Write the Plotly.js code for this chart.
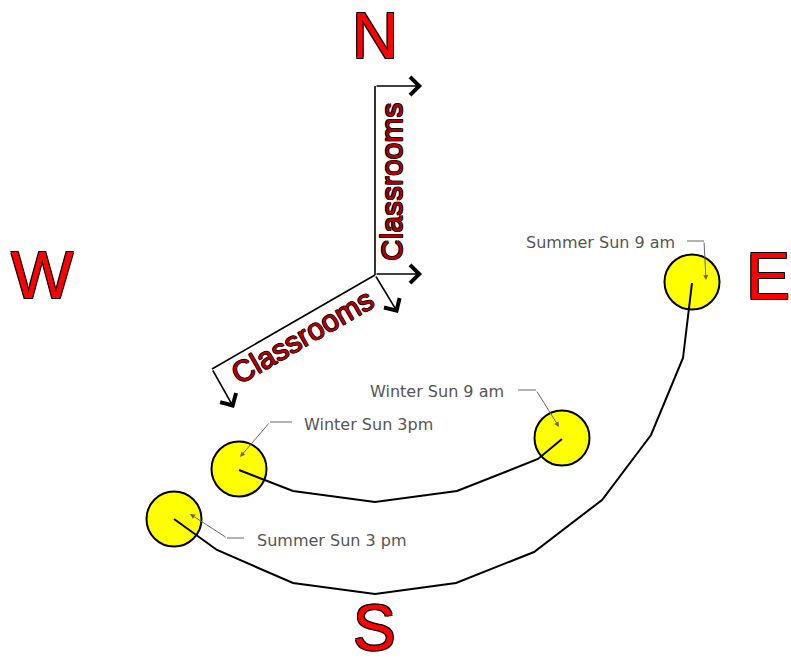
<!DOCTYPE html>
<html>
<head>
<meta charset="utf-8">
<script src="https://cdn.plot.ly/plotly-3.0.1.min.js"></script>
<style>html,body{margin:0;padding:0;background:#fff;}#chart{width:791px;height:664px;}</style>
</head>
<body>
<div id="chart"></div>
<script>
// Sun positions (diagram pixel coordinates, y downward)
const sunNames = ["Summer Sun 9 am", "Winter Sun 9 am", "Winter Sun 3pm", "Summer Sun 3 pm"];
const sunX = [692, 562, 239, 174];
const sunY = [282, 438, 469, 519];

// Sun paths
const summerPathX = [692, 683, 651, 602, 534, 456, 375, 293, 217, 174];
const summerPathY = [283, 358, 435, 500, 552, 583, 594, 583, 550, 519];
const winterPathX = [239, 293, 375, 457, 538, 562];
const winterPathY = [470, 491, 502, 491, 459, 439];

// Label anchor (left edge, middle) for each sun
const labelX = [524, 368, 302, 255];
const labelY = [242, 391, 424, 540];
// Connector elbows: start -> bend, then arrow to tip
const connStartX = [687, 518, 292, 244];
const connStartY = [241, 390, 422, 538];
const connBendX = [704, 536, 270, 227];
const connBendY = [241, 390, 422, 538];
const connTipX = [706, 559, 240, 190];
const connTipY = [280, 427, 457, 514];

// Compass letters
const compassText = ["N", "W", "E", "S"];
const compassX = [375, 42, 768, 374];
const compassY = [36, 275, 276, 628];
const compassSize = [64, 66, 66, 64];

// Classroom blocks
const roomText = ["Classrooms", "Classrooms"];
const roomX = [391, 302];
const roomY = [182, 336];
const roomAngle = [-90, -30];
const wallX = [375, 375, null, 375, 212];
const wallY = [86, 275, null, 275, 369];
const roomArrowTailX = [375, 375, 375, 212];
const roomArrowTailY = [86, 274, 275, 369];
const roomArrowTipX = [422, 422, 398, 234];
const roomArrowTipY = [86, 274, 313, 408];

const outline = "1px 1px 0 #000, -1px -1px 0 #000, 1px -1px 0 #000, -1px 1px 0 #000";
const thinOutline = "0.6px 0.6px 0 #000, -0.6px -0.6px 0 #000, 0.6px -0.6px 0 #000, -0.6px 0.6px 0 #000";

const connX = [], connY = [];
for (let i = 0; i < sunNames.length; i++) {
  connX.push(connStartX[i], connBendX[i], null);
  connY.push(connStartY[i], connBendY[i], null);
}

const traces = [
  {x: sunX, y: sunY, mode: "markers", type: "scatter", hoverinfo: "skip",
   marker: {size: 55, color: "#ffff00", line: {color: "#000", width: 2}}},
  {x: summerPathX, y: summerPathY, mode: "lines", type: "scatter", hoverinfo: "skip",
   line: {color: "#000", width: 2}},
  {x: winterPathX, y: winterPathY, mode: "lines", type: "scatter", hoverinfo: "skip",
   line: {color: "#000", width: 2}},
  {x: connX, y: connY, mode: "lines", type: "scatter", hoverinfo: "skip",
   line: {color: "#666", width: 1}},
  {x: wallX, y: wallY, mode: "lines", type: "scatter", hoverinfo: "skip",
   line: {color: "#000", width: 1.6}}
];

const annotations = [];
for (let i = 0; i < sunNames.length; i++) {
  annotations.push({x: labelX[i], y: labelY[i], xref: "x", yref: "y", text: sunNames[i],
    showarrow: false, xanchor: "left", yanchor: "middle",
    font: {family: "DejaVu Sans, Verdana, sans-serif", size: 16, color: "#555"}});
  annotations.push({x: connTipX[i], y: connTipY[i], ax: connBendX[i], ay: connBendY[i],
    xref: "x", yref: "y", axref: "x", ayref: "y", text: "", showarrow: true,
    arrowhead: 2, arrowsize: 1, arrowwidth: 1, arrowcolor: "#666"});
}
for (let i = 0; i < compassText.length; i++) {
  annotations.push({x: compassX[i], y: compassY[i], xref: "x", yref: "y", text: compassText[i],
    showarrow: false, xanchor: "center", yanchor: "middle", borderpad: 0,
    font: {family: "Liberation Sans, Arial, sans-serif", size: compassSize[i], color: "#ff0000", shadow: outline}});
}
for (let i = 0; i < roomText.length; i++) {
  annotations.push({x: roomX[i], y: roomY[i], xref: "x", yref: "y", text: roomText[i],
    showarrow: false, textangle: roomAngle[i],
    font: {family: "Liberation Sans, Arial, sans-serif", size: 30, color: "#b00000", shadow: thinOutline}});
}
for (let i = 0; i < roomArrowTipX.length; i++) {
  annotations.push({x: roomArrowTipX[i], y: roomArrowTipY[i], ax: roomArrowTailX[i], ay: roomArrowTailY[i],
    xref: "x", yref: "y", axref: "x", ayref: "y", text: "", showarrow: true,
    arrowhead: 4, arrowsize: 2.2, arrowwidth: 1.6, arrowcolor: "#000"});
}

const layout = {
  width: 791, height: 664,
  margin: {l: 0, r: 0, t: 0, b: 0},
  paper_bgcolor: "#fff", plot_bgcolor: "#fff",
  showlegend: false,
  xaxis: {range: [0, 791], visible: false, fixedrange: true},
  yaxis: {range: [664, 0], visible: false, fixedrange: true},
  annotations: annotations
};

Plotly.newPlot("chart", traces, layout, {displayModeBar: false, staticPlot: true});
</script>
</body>
</html>
